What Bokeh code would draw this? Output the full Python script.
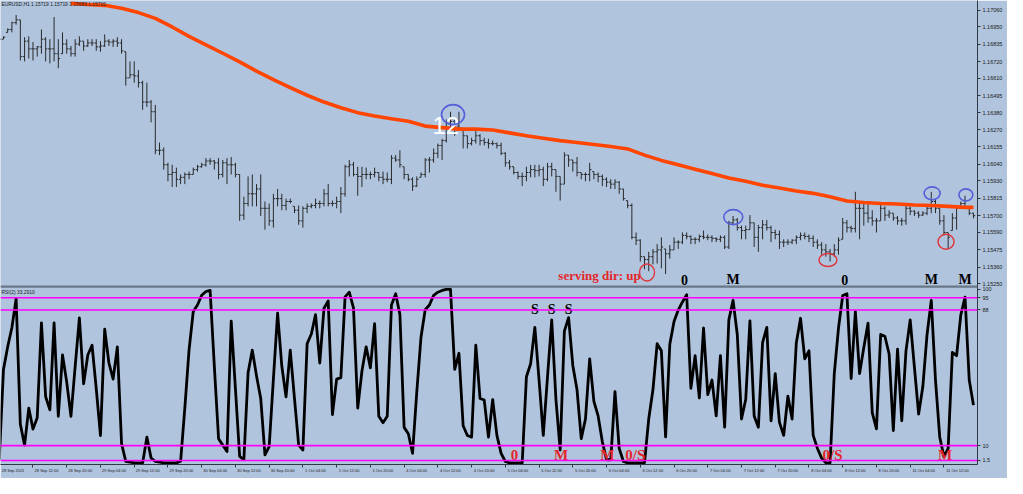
import pandas as pd
from bokeh.plotting import figure
from bokeh.models import (Range1d, FixedTicker, PrintfTickFormatter, Span, Label,
                          LinearAxis)
from bokeh.core.properties import value
from bokeh.embed import file_html
from bokeh.resources import INLINE

# ---------------- data ----------------
symbol_header = "EURUSD,H1  1.15719 1.15719 1.15683 1.15700"
rsi_header = "RSI(2) 33.2910"

high = [
1.16881, 1.16887, 1.16939, 1.16983, 1.17028, 1.16996, 1.16881, 1.16887, 1.16849, 1.16823,
1.16932, 1.16881, 1.16868, 1.17015, 1.16868, 1.16913, 1.16868, 1.16823, 1.16868, 1.16887,
1.16855, 1.16868, 1.16868, 1.16868, 1.16855, 1.16900, 1.16868, 1.16868, 1.16881, 1.16868,
1.16785, 1.16721, 1.16721, 1.16664, 1.16593, 1.16580, 1.16465, 1.16433, 1.16184, 1.16152,
1.16050, 1.16037, 1.16018, 1.15973, 1.15986, 1.15992, 1.16018, 1.16037, 1.16050, 1.16081,
1.16081, 1.16069, 1.16081, 1.16069, 1.16081, 1.16088, 1.16050, 1.15973, 1.15826, 1.15960,
1.15973, 1.15909, 1.15973, 1.15794, 1.15781, 1.15845, 1.15877, 1.15845, 1.15813, 1.15813,
1.15762, 1.15768, 1.15762, 1.15781, 1.15781, 1.15813, 1.15800, 1.15877, 1.15909, 1.15800,
1.15826, 1.15890, 1.16037, 1.16069, 1.16056, 1.16024, 1.16024, 1.16018, 1.15992, 1.16018,
1.15986, 1.15992, 1.15986, 1.16101, 1.16101, 1.16133, 1.16024, 1.15973, 1.15954, 1.15960,
1.15986, 1.16081, 1.16088, 1.16145, 1.16177, 1.16209, 1.16337, 1.16388, 1.16337, 1.16388,
1.16280, 1.16229, 1.16216, 1.16273, 1.16241, 1.16216, 1.16209, 1.16197, 1.16184, 1.16184,
1.16120, 1.16069, 1.16024, 1.15992, 1.15986, 1.16024, 1.16037, 1.16037, 1.16037, 1.16024,
1.16050, 1.16050, 1.16005, 1.15960, 1.16120, 1.16101, 1.16069, 1.16088, 1.15986, 1.15986,
1.16050, 1.15992, 1.15986, 1.15973, 1.15954, 1.15941, 1.15941, 1.15928, 1.15877, 1.15800,
1.15781, 1.15589, 1.15544, 1.15429, 1.15461, 1.15480, 1.15512, 1.15557, 1.15480, 1.15506,
1.15557, 1.15538, 1.15589, 1.15589, 1.15570, 1.15557, 1.15576, 1.15602, 1.15576, 1.15570,
1.15557, 1.15570, 1.15570, 1.15666, 1.15698, 1.15685, 1.15634, 1.15634, 1.15704, 1.15653,
1.15640, 1.15672, 1.15672, 1.15634, 1.15608, 1.15602, 1.15544, 1.15544, 1.15544, 1.15570,
1.15589, 1.15589, 1.15576, 1.15570, 1.15544, 1.15525, 1.15512, 1.15480, 1.15512, 1.15557,
1.15685, 1.15672, 1.15634, 1.15858, 1.15794, 1.15781, 1.15794, 1.15736, 1.15685, 1.15781,
1.15762, 1.15736, 1.15717, 1.15698, 1.15685, 1.15781, 1.15762, 1.15736, 1.15730, 1.15730,
1.15762, 1.15858, 1.15813, 1.15749, 1.15704, 1.15589, 1.15717, 1.15762, 1.15794, 1.15832,
1.15749, 1.15719]

low = [
1.16855, 1.16868, 1.16913, 1.16913, 1.16964, 1.16727, 1.16721, 1.16740, 1.16727, 1.16753,
1.16772, 1.16721, 1.16708, 1.16721, 1.16676, 1.16772, 1.16772, 1.16753, 1.16753, 1.16823,
1.16791, 1.16817, 1.16823, 1.16791, 1.16785, 1.16817, 1.16823, 1.16817, 1.16817, 1.16772,
1.16561, 1.16612, 1.16580, 1.16548, 1.16401, 1.16420, 1.16318, 1.16107, 1.16101, 1.16005,
1.15928, 1.15890, 1.15890, 1.15909, 1.15909, 1.15941, 1.15973, 1.15992, 1.16018, 1.16024,
1.16037, 1.16005, 1.15941, 1.15954, 1.15909, 1.15973, 1.15954, 1.15666, 1.15672, 1.15762,
1.15762, 1.15762, 1.15698, 1.15608, 1.15634, 1.15621, 1.15762, 1.15736, 1.15736, 1.15781,
1.15717, 1.15640, 1.15621, 1.15717, 1.15749, 1.15749, 1.15749, 1.15762, 1.15762, 1.15762,
1.15749, 1.15717, 1.15826, 1.15960, 1.15960, 1.15832, 1.15890, 1.15941, 1.15941, 1.15954,
1.15928, 1.15909, 1.15922, 1.15909, 1.16056, 1.16018, 1.15941, 1.15928, 1.15864, 1.15890,
1.15954, 1.15954, 1.15986, 1.16050, 1.16081, 1.16069, 1.16184, 1.16273, 1.16229, 1.16273,
1.16145, 1.16145, 1.16165, 1.16177, 1.16165, 1.16165, 1.16145, 1.16165, 1.16145, 1.16101,
1.16024, 1.16005, 1.15973, 1.15941, 1.15896, 1.15928, 1.15954, 1.15954, 1.15960, 1.15896,
1.15928, 1.15960, 1.15858, 1.15800, 1.15909, 1.16024, 1.15992, 1.15960, 1.15941, 1.15928,
1.15928, 1.15941, 1.15922, 1.15896, 1.15890, 1.15877, 1.15877, 1.15845, 1.15800, 1.15749,
1.15544, 1.15506, 1.15397, 1.15346, 1.15333, 1.15378, 1.15384, 1.15352, 1.15314, 1.15416,
1.15474, 1.15480, 1.15512, 1.15544, 1.15512, 1.15512, 1.15525, 1.15544, 1.15538, 1.15525,
1.15525, 1.15525, 1.15480, 1.15480, 1.15640, 1.15602, 1.15544, 1.15544, 1.15608, 1.15493,
1.15461, 1.15544, 1.15602, 1.15525, 1.15544, 1.15480, 1.15493, 1.15506, 1.15512, 1.15512,
1.15538, 1.15544, 1.15525, 1.15493, 1.15480, 1.15442, 1.15429, 1.15397, 1.15429, 1.15442,
1.15544, 1.15589, 1.15589, 1.15589, 1.15544, 1.15634, 1.15653, 1.15634, 1.15589, 1.15666,
1.15666, 1.15685, 1.15666, 1.15640, 1.15634, 1.15640, 1.15704, 1.15698, 1.15685, 1.15698,
1.15704, 1.15717, 1.15717, 1.15640, 1.15570, 1.15480, 1.15602, 1.15608, 1.15749, 1.15749,
1.15704, 1.15683]

close = [
1.16868, 1.16881, 1.16932, 1.16977, 1.16996, 1.16753, 1.16855, 1.16804, 1.16804, 1.16817,
1.16868, 1.16804, 1.16804, 1.16772, 1.16740, 1.16836, 1.16804, 1.16772, 1.16836, 1.16855,
1.16823, 1.16843, 1.16843, 1.16817, 1.16823, 1.16855, 1.16849, 1.16855, 1.16843, 1.16791,
1.16612, 1.16632, 1.16625, 1.16580, 1.16452, 1.16452, 1.16388, 1.16133, 1.16133, 1.16037,
1.15973, 1.15986, 1.15941, 1.15954, 1.15973, 1.15973, 1.16005, 1.16024, 1.16037, 1.16062,
1.16062, 1.16050, 1.15973, 1.16050, 1.16037, 1.16037, 1.15973, 1.15704, 1.15781, 1.15845,
1.15845, 1.15877, 1.15749, 1.15749, 1.15666, 1.15813, 1.15813, 1.15768, 1.15794, 1.15794,
1.15736, 1.15666, 1.15749, 1.15762, 1.15768, 1.15781, 1.15781, 1.15845, 1.15781, 1.15781,
1.15794, 1.15845, 1.16024, 1.16037, 1.15973, 1.15960, 1.15973, 1.15973, 1.15973, 1.15986,
1.15954, 1.15941, 1.15941, 1.16081, 1.16069, 1.16037, 1.15973, 1.15941, 1.15896, 1.15941,
1.15973, 1.16069, 1.16069, 1.16113, 1.16165, 1.16197, 1.16312, 1.16325, 1.16293, 1.16280,
1.16229, 1.16177, 1.16197, 1.16229, 1.16197, 1.16184, 1.16177, 1.16177, 1.16165, 1.16113,
1.16050, 1.16024, 1.15986, 1.15960, 1.15960, 1.15986, 1.16005, 1.15998, 1.16005, 1.15941,
1.16024, 1.16005, 1.15960, 1.15909, 1.16101, 1.16069, 1.16050, 1.15986, 1.15973, 1.15973,
1.16005, 1.15973, 1.15960, 1.15941, 1.15922, 1.15909, 1.15922, 1.15877, 1.15813, 1.15768,
1.15557, 1.15538, 1.15429, 1.15410, 1.15429, 1.15461, 1.15474, 1.15493, 1.15448, 1.15474,
1.15525, 1.15525, 1.15570, 1.15563, 1.15544, 1.15544, 1.15563, 1.15557, 1.15557, 1.15550,
1.15544, 1.15557, 1.15493, 1.15653, 1.15672, 1.15621, 1.15602, 1.15608, 1.15653, 1.15557,
1.15621, 1.15640, 1.15621, 1.15589, 1.15576, 1.15525, 1.15525, 1.15525, 1.15538, 1.15557,
1.15570, 1.15563, 1.15550, 1.15525, 1.15506, 1.15474, 1.15461, 1.15448, 1.15474, 1.15538,
1.15653, 1.15621, 1.15615, 1.15749, 1.15749, 1.15717, 1.15685, 1.15666, 1.15666, 1.15749,
1.15704, 1.15717, 1.15685, 1.15666, 1.15666, 1.15749, 1.15730, 1.15717, 1.15704, 1.15717,
1.15749, 1.15794, 1.15749, 1.15666, 1.15589, 1.15557, 1.15685, 1.15749, 1.15781, 1.15749,
1.15717, 1.15700]

ma_bars = list(range(17, 230, 4)) + [231]
ma_values = [
1.17105, 1.17098, 1.17092, 1.17073, 1.17044, 1.17006, 1.16949, 1.16887, 1.16830, 1.16775,
1.16718, 1.16657, 1.16600, 1.16548, 1.16497, 1.16452, 1.16414, 1.16382, 1.16360, 1.16341,
1.16325, 1.16293, 1.16283, 1.16273, 1.16273, 1.16267, 1.16248, 1.16229, 1.16213, 1.16197,
1.16184, 1.16171, 1.16158, 1.16142, 1.16101, 1.16066, 1.16037, 1.16008, 1.15979, 1.15950,
1.15928, 1.15902, 1.15883, 1.15864, 1.15848, 1.15826, 1.15797, 1.15787, 1.15781, 1.15778,
1.15771, 1.15768, 1.15762, 1.15755, 1.15755]

rsi = [
1.9, 53.8, 66.8, 77.9, 94.5, 22.3, 10.3, 31.6, 19.5, 26.0,
80.6, 38.1, 30.6, 80.6, 26.9, 62.1, 46.4, 26.9, 55.6, 83.4,
45.5, 62.1, 67.7, 42.7, 15.8, 76.9, 57.5, 48.2, 66.8, 11.2,
1.0, 0.5, 0.1, 0.1, 0.1, 14.9, 2.9, 1.0, 0.5, 0.1,
0.1, 0.1, 0.1, 1.0, 31.6, 64.9, 87.1, 90.8, 96.4, 98.6,
99.2, 55.6, 14.0, 10.3, 6.6, 81.6, 42.7, 3.8, 1.9, 51.9,
64.9, 50.1, 37.1, 4.7, 9.4, 48.2, 86.2, 55.6, 38.1, 64.9,
37.1, 10.3, 7.5, 68.6, 74.2, 85.3, 57.5, 89.0, 93.1, 27.9,
48.2, 49.1, 95.5, 98.2, 89.0, 31.6, 52.9, 66.8, 54.7, 80.1,
26.9, 23.2, 26.9, 90.8, 97.3, 85.3, 20.5, 16.8, 5.6, 40.8,
72.3, 88.1, 90.8, 96.4, 98.2, 99.2, 99.8, 99.8, 53.8, 63.1,
21.4, 15.8, 14.9, 67.7, 37.1, 36.2, 14.9, 36.5, 15.9, 5.6,
0.9, 0.1, 0.1, 0.1, 0.1, 49.6, 57.1, 78.0, 47.7, 15.9,
49.6, 82.3, 36.5, 7.5, 75.8, 83.6, 56.1, 42.1, 14.0, 25.3,
59.9, 35.5, 27.1, 12.2, 1.9, 1.9, 41.1, 8.4, 0.9, 0.1,
0.1, 0.1, 0.1, 0.3, 25.3, 42.1, 68.6, 64.5, 15.0, 68.3,
81.4, 87.9, 92.6, 96.7, 43.0, 61.7, 37.4, 77.6, 39.3, 47.7,
27.1, 61.7, 20.6, 82.3, 93.5, 73.9, 25.3, 36.5, 81.7, 27.1,
20.6, 69.2, 78.0, 24.3, 51.4, 23.4, 15.9, 38.4, 25.3, 69.2,
83.2, 59.9, 64.5, 15.9, 8.4, 2.8, 0.1, 0.1, 51.4, 77.6,
96.3, 97.3, 48.6, 87.0, 51.4, 66.4, 80.4, 29.0, 19.6, 73.9,
72.9, 62.7, 18.7, 65.5, 24.3, 64.5, 82.3, 55.2, 28.1, 44.0,
73.9, 93.5, 47.7, 15.0, 3.7, 8.4, 63.6, 61.7, 85.1, 95.4,
47.7, 33.29]

price_ticks = [1.17060, 1.16950, 1.16835, 1.16720, 1.16610, 1.16495, 1.16380, 1.16270,
               1.16155, 1.16040, 1.15930, 1.15815, 1.15590, 1.15475, 1.15360, 1.15250]
current_price = 1.15700
rsi_levels = [95.0, 88.0, 10.0, 1.5]
rsi_level_labels = ["95", "88", "10", "1.5"]
rsi_axis_values = [100.0] + rsi_levels
rsi_axis_labels = ["100"] + rsi_level_labels

# annotations drawn on the chart
price_note_text = ["0", "M", "0", "M", "M"]
price_note_bar = [162.5, 174, 200.5, 221, 229]
rsi_s_text = ["S", "S", "S"]
rsi_s_bar = [127, 131, 135]
rsi_red_text = ["0", "M", "M", "0/S", "0/S", "M"]
rsi_red_bar = [122.2, 133.2, 144.2, 150.8, 197.6, 224.3]
blue_bar = [107.6, 174.05, 221.2, 229.2]
blue_price = [1.16369, 1.15691, 1.15848, 1.15838]
blue_w = [23, 19, 16, 14]
blue_h = [20, 15, 13, 12]
red_bar = [153.6, 196.5, 224.5]
red_price = [1.15324, 1.15407, 1.15528]
red_w = [15, 18, 16]
red_h = [17, 13, 15]
direction_text = "serving dir: up"
direction_bar, direction_price = 152.1, 1.15307
count_text, count_bar, count_price = "12", 105.9, 1.16299

# ---------------- layout constants ----------------
BG = "#b0c4de"
AX = "#2e3844"
W, H, RB = 1007, 478, 30
x_lo, x_hi = 0.294, 231.96
price_lo, price_hi = 1.140539, 1.17124
rsi_lo, rsi_hi = -0.833, 265.83
rsi_panel_top = 101.4
note_row_price = 1.15276
rsi_s_row = 88.0
rsi_red_row = 4.7
TIME_FS = 4.0
px_per_bar = (W - RB) / (x_hi - x_lo)


def rsi_to_price(r):
    return price_lo + (r - rsi_lo) * (price_hi - price_lo) / (rsi_hi - rsi_lo)


times = [t for t in pd.date_range("2021-09-28 04:00", "2021-10-11 19:00", freq="h")
         if t.dayofweek < 5]
idx = list(range(len(times)))
prev_close = [close[0]] + close[:-1]
opens = [min(max(c, l), h) for c, l, h in zip(prev_close, low, high)]

tick_pos = [i for i, t in enumerate(times) if t.hour in (4, 12, 20) and i > 0]
tick_txt = [f"{times[i].day} {times[i].strftime('%b %H:%M')}" for i in tick_pos]
first_txt = f"{times[0].day} {times[0].strftime('%b %Y')}"

p = figure(width=W, height=H, x_range=Range1d(x_lo, x_hi),
           y_range=Range1d(price_lo, price_hi), y_axis_location="right",
           output_backend="svg", toolbar_location=None,
           min_border_left=0, min_border_top=0, min_border_right=RB, min_border_bottom=14,
           background_fill_color=BG, border_fill_color=BG, outline_line_color=None)
p.extra_y_ranges = {"rsi": Range1d(rsi_lo, rsi_hi)}
p.grid.visible = False

# price bars
BAR = "#2a2a2a"
p.segment(idx, low, idx, high, line_color=BAR, line_width=1)
p.segment([i - 0.42 for i in idx], opens, idx, opens, line_color=BAR, line_width=1)
p.segment(idx, close, [i + 0.42 for i in idx], close, line_color=BAR, line_width=1)

# moving average
p.line(ma_bars, ma_values, line_color="#ff4500", line_width=3.6)

# RSI panel
for lv in rsi_levels:
    p.add_layout(Span(location=rsi_to_price(lv), dimension="width",
                      line_color="#ff00ff", line_width=1.6))
p.line(idx, rsi, y_range_name="rsi", line_color="black", line_width=2.8,
       line_join="round")
p.add_layout(Span(location=rsi_to_price(rsi_panel_top), dimension="width",
                  line_color="#6a7786", line_width=2.2))

# right axis: price ticks, current price, RSI scale labels
rsi_tick_prices = [rsi_to_price(v) for v in rsi_axis_values]
p.yaxis.ticker = FixedTicker(ticks=price_ticks + [current_price] + rsi_tick_prices)
p.yaxis.formatter = PrintfTickFormatter(format="%.5f")
p.yaxis.major_label_overrides = dict(zip(rsi_tick_prices, rsi_axis_labels))
p.yaxis.major_label_text_font_size = "5.5px"
p.yaxis.major_label_text_font = "Liberation Sans"
p.yaxis.major_label_text_color = "#1a1a1a"
p.yaxis.major_label_standoff = 2
p.yaxis.major_tick_out = 3
p.yaxis.major_tick_in = 0
p.yaxis.minor_tick_line_color = None
p.yaxis.axis_line_color = AX
p.yaxis.major_tick_line_color = AX

# bottom axis: tick marks at the bar times
p.xaxis.ticker = FixedTicker(ticks=tick_pos)
p.xaxis.major_label_overrides = {t: "" for t in tick_pos}
p.xaxis.major_label_text_font_size = "1px"
p.xaxis.major_label_standoff = 0
p.xaxis.major_tick_out = 3
p.xaxis.major_tick_in = 0
p.xaxis.minor_tick_line_color = None
p.xaxis.axis_line_color = AX
p.xaxis.major_tick_line_color = AX

# second bottom axis carrying the time labels, each starting just right of its tick
all_pos = [x_lo] + tick_pos
all_txt = [first_txt] + tick_txt
lab_pos = [x + (1.5 + 0.5 * len(s) * 0.5 * TIME_FS) / px_per_bar
           for x, s in zip(all_pos, all_txt)]
time_axis = LinearAxis(ticker=FixedTicker(ticks=lab_pos),
                       major_label_overrides=dict(zip(lab_pos, all_txt)),
                       axis_line_color=None, major_tick_line_color=None,
                       minor_tick_line_color=None, major_tick_out=0, major_tick_in=0,
                       major_label_standoff=0, major_label_text_font_size=f"{TIME_FS}px",
                       major_label_text_font="Liberation Sans",
                       major_label_text_color="#1a1a1a")
p.add_layout(time_axis, "below")

FONT = "Liberation Sans"
# headers
p.add_layout(Label(x=x_lo, y=price_hi, text=symbol_header, x_offset=1, y_offset=-1,
                   text_baseline="top", text_font_size="4.9px",
                   text_font=FONT, text_color="#1a1a1a"))
p.add_layout(Label(x=x_lo, y=rsi_to_price(rsi_panel_top), text=rsi_header, x_offset=1,
                   y_offset=-3, text_baseline="top", text_font_size="4.9px",
                   text_font=FONT, text_color="#1a1a1a"))

# hand-drawn marks
SERIF = value("Liberation Serif")
p.text(x=[count_bar], y=[count_price], text=[count_text], text_color="white",
       text_font=value("Liberation Sans"), text_font_size="24px",
       text_align="center", text_baseline="middle")
p.text(x=[direction_bar], y=[direction_price], text=[direction_text], text_color="#e5262a",
       text_font=SERIF, text_font_style="bold", text_font_size="13px",
       text_align="right", text_baseline="middle")
p.text(x=price_note_bar, y=[note_row_price] * len(price_note_bar), text=price_note_text,
       text_color="black", text_font=SERIF, text_font_style="bold", text_font_size="14px",
       text_align="center", text_baseline="middle")
p.text(x=rsi_s_bar, y=[rsi_s_row] * len(rsi_s_bar), text=rsi_s_text, y_range_name="rsi",
       text_color="black", text_font=SERIF, text_font_style="bold", text_font_size="14px",
       text_align="center", text_baseline="middle")
p.text(x=rsi_red_bar, y=[rsi_red_row] * len(rsi_red_bar), text=rsi_red_text,
       y_range_name="rsi", text_color="#e5262a", text_font=SERIF, text_font_style="bold",
       text_font_size="15px", text_align="center", text_baseline="middle")
p.ellipse(x=blue_bar, y=blue_price, width=blue_w, height=blue_h, width_units="screen",
          height_units="screen", fill_color=None, line_color="#5560d8", line_width=1.6)
p.ellipse(x=red_bar, y=red_price, width=red_w, height=red_h, width_units="screen",
          height_units="screen", fill_color=None, line_color="#e0353a", line_width=1.4)

open("out.html", "w").write(file_html(p, INLINE))
